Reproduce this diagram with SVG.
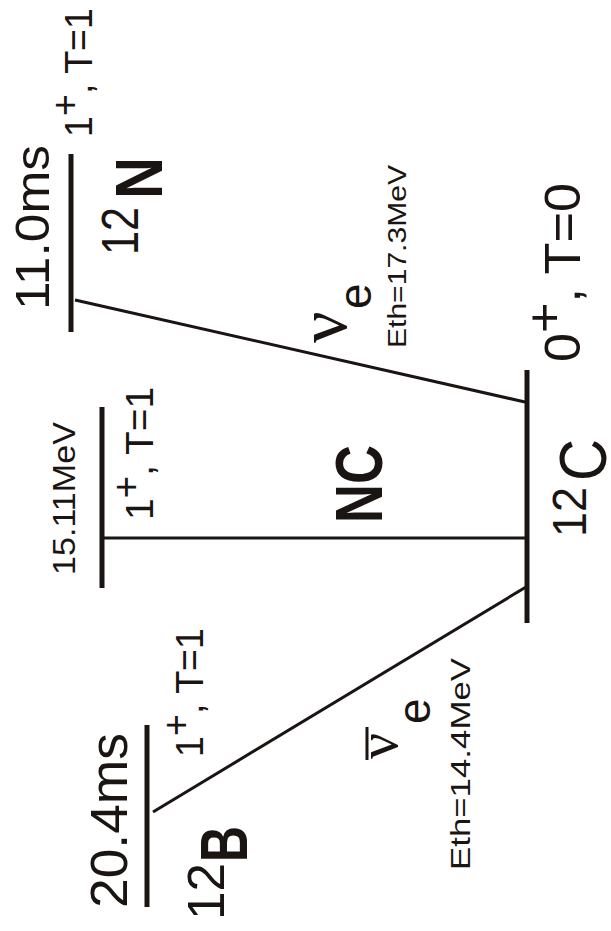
<svg xmlns="http://www.w3.org/2000/svg" width="611" height="931" viewBox="0 0 611 931">
<style>
.t{font-family:"Liberation Sans",Arial,sans-serif;fill:#1a1512}
.b{font-weight:bold}
.g{font-family:"Liberation Serif","Times New Roman",serif;fill:#1a1512}
.lvl{stroke:#1a1512;stroke-width:5;stroke-linecap:butt}
.con{stroke:#1a1512;stroke-width:3;fill:none}
</style>
<rect width="611" height="931" fill="#ffffff"/>
<g id="connectors">
<line class="con" x1="75" y1="300" x2="525" y2="402"/>
<line class="con" x1="104" y1="538" x2="526" y2="538"/>
<line class="con" x1="153" y1="812" x2="526" y2="587"/>
</g>
<g id="N12">
<line class="lvl" x1="71" y1="154" x2="71" y2="332"/>
<text class="t" font-size="48" textLength="165" lengthAdjust="spacingAndGlyphs" transform="translate(49,310) rotate(-90)">11.0ms</text>
<text class="t" font-size="38" textLength="129" lengthAdjust="spacingAndGlyphs" transform="translate(92,137) rotate(-90)">1<tspan dy="-14">+</tspan><tspan dy="14">, T=1</tspan></text>
<text class="t" font-size="51" textLength="48" lengthAdjust="spacingAndGlyphs" transform="translate(138,255) rotate(-90)">12</text>
<text class="t b" font-size="67" textLength="42" lengthAdjust="spacingAndGlyphs" transform="translate(162,199) rotate(-90)">N</text>
</g>
<g id="level15">
<line class="lvl" x1="102" y1="407" x2="102" y2="588"/>
<text class="t" font-size="31" textLength="153" lengthAdjust="spacingAndGlyphs" transform="translate(75,575) rotate(-90)">15.11MeV</text>
<text class="t" font-size="38" textLength="133" lengthAdjust="spacingAndGlyphs" transform="translate(153,520) rotate(-90)">1<tspan dy="-14">+</tspan><tspan dy="14">, T=1</tspan></text>
</g>
<g id="C12">
<line class="lvl" x1="527" y1="370" x2="527" y2="623"/>
<text class="t" font-size="50" textLength="179" lengthAdjust="spacingAndGlyphs" transform="translate(580,362) rotate(-90)">0<tspan dy="-19">+</tspan><tspan dy="19">, T=0</tspan></text>
<text class="t" font-size="49" textLength="50" lengthAdjust="spacingAndGlyphs" transform="translate(586,537) rotate(-90)">12</text>
<text class="t" font-size="66" textLength="42" lengthAdjust="spacingAndGlyphs" transform="translate(606,481) rotate(-90)">C</text>
</g>
<g id="B12">
<line class="lvl" x1="147" y1="725" x2="147" y2="907"/>
<text class="t" font-size="51" textLength="175" lengthAdjust="spacingAndGlyphs" transform="translate(127,908) rotate(-90)">20.4ms</text>
<text class="t" font-size="38" textLength="129" lengthAdjust="spacingAndGlyphs" transform="translate(203,757) rotate(-90)">1<tspan dy="-14">+</tspan><tspan dy="14">, T=1</tspan></text>
<text class="t" font-size="51" textLength="57" lengthAdjust="spacingAndGlyphs" transform="translate(224,920) rotate(-90)">12</text>
<text class="t b" font-size="66" textLength="36" lengthAdjust="spacingAndGlyphs" transform="translate(247,862) rotate(-90)">B</text>
</g>
<g id="label-nue">
<text class="g" font-size="70" transform="translate(346,343) rotate(-90)">ν</text>
<text class="t" font-size="46" transform="translate(371,309) rotate(-90)">e</text>
<text class="t" font-size="25" textLength="183" lengthAdjust="spacingAndGlyphs" transform="translate(406,348) rotate(-90)">Eth=17.3MeV</text>
</g>
<g id="label-NC">
<text class="t b" font-size="66" textLength="78" lengthAdjust="spacingAndGlyphs" transform="translate(382,523) rotate(-90)">NC</text>
</g>
<g id="label-anue">
<text class="g" font-size="58" transform="translate(397,759) rotate(-90)">ν</text>
<line x1="367" y1="727" x2="367" y2="760" stroke="#1a1512" stroke-width="3"/>
<text class="t" font-size="46" transform="translate(430,724) rotate(-90)">e</text>
<text class="t" font-size="28" textLength="212" lengthAdjust="spacingAndGlyphs" transform="translate(470,870) rotate(-90)">Eth=14.4MeV</text>
</g>
</svg>
